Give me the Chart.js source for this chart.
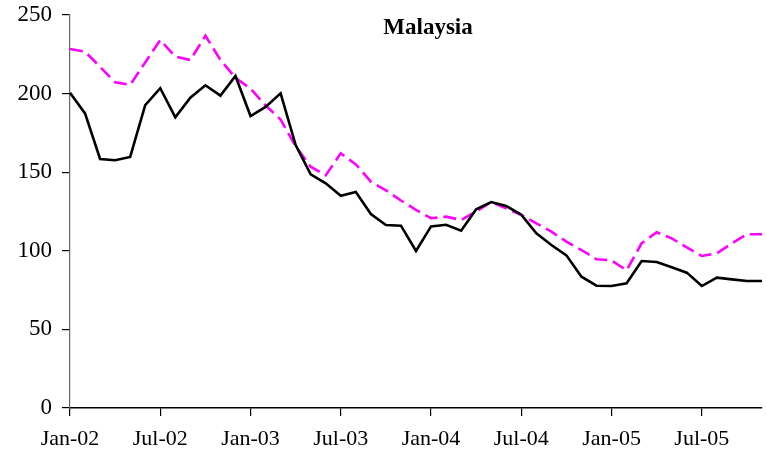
<!DOCTYPE html>
<html>
<head>
<meta charset="utf-8">
<script src="https://cdn.jsdelivr.net/npm/chart.js@4.4.1/dist/chart.umd.min.js"></script>
<style>
  html, body { margin: 0; padding: 0; background: #fff; }
  #chart { display: block; }
</style>
</head>
<body>
<canvas id="chart" width="767" height="459"></canvas>
<script>
const months = [
  'Jan-02', 'Feb-02', 'Mar-02', 'Apr-02', 'May-02', 'Jun-02', 'Jul-02', 'Aug-02', 'Sep-02', 'Oct-02', 'Nov-02', 'Dec-02',
  'Jan-03', 'Feb-03', 'Mar-03', 'Apr-03', 'May-03', 'Jun-03', 'Jul-03', 'Aug-03', 'Sep-03', 'Oct-03', 'Nov-03', 'Dec-03',
  'Jan-04', 'Feb-04', 'Mar-04', 'Apr-04', 'May-04', 'Jun-04', 'Jul-04', 'Aug-04', 'Sep-04', 'Oct-04', 'Nov-04', 'Dec-04',
  'Jan-05', 'Feb-05', 'Mar-05', 'Apr-05', 'May-05', 'Jun-05', 'Jul-05', 'Aug-05', 'Sep-05', 'Oct-05', 'Nov-05'
];

const solidSeries = [
  200.6, 187.4, 158.4, 157.6, 159.7, 192.7, 203.4, 184.9, 197.4, 205.3, 198.7, 211.2,
  185.7, 191.5, 200.2, 167.3, 148.7, 142.9, 135.0, 137.4, 123.4, 116.4, 116.0, 99.9,
  115.5, 116.6, 112.8, 126.4, 131.0, 128.5, 123.0, 111.1, 103.7, 97.1, 83.5, 77.8,
  77.6, 79.3, 93.5, 92.9, 89.5, 86.1, 77.6, 82.9, 81.8, 80.8, 80.8
];

const dashedSeries = [
  228.4, 226.7, 217.0, 207.2, 205.5, 219.8, 234.1, 223.5, 221.4, 236.8, 221.4, 210.0,
  203.2, 192.5, 183.5, 166.5, 153.5, 148.0, 162.0, 155.0, 144.0, 138.5, 132.0, 126.0,
  120.7, 121.7, 119.6, 125.0, 131.0, 127.0, 122.8, 117.5, 112.2, 105.8, 100.5, 94.6,
  93.9, 87.5, 104.8, 111.8, 107.9, 102.2, 96.7, 98.4, 104.8, 110.5, 110.5
];

const yTicks = [0, 50, 100, 150, 200, 250];
const chartTitle = 'Malaysia';

const serif = '"Liberation Serif", "Times New Roman", serif';

const titlePlugin = {
  id: 'innerTitle',
  afterDraw(chart) {
    const { ctx, chartArea } = chart;
    ctx.save();
    ctx.font = 'bold 23px ' + serif;
    ctx.fillStyle = '#000';
    ctx.textAlign = 'center';
    ctx.textBaseline = 'middle';
    ctx.fillText(chartTitle, chartArea.left + 358, chartArea.top + 13);
    ctx.restore();
  }
};

new Chart(document.getElementById('chart'), {
  type: 'line',
  data: {
    labels: months,
    datasets: [
      {
        label: 'Actual',
        data: solidSeries,
        borderColor: '#000000',
        borderWidth: 2.6,
        pointRadius: 0,
        tension: 0,
        fill: false
      },
      {
        label: 'Trend',
        data: dashedSeries,
        borderColor: '#ff00ff',
        borderWidth: 2.6,
        borderDash: [13, 6],
        pointRadius: 0,
        tension: 0,
        fill: false
      }
    ]
  },
  options: {
    responsive: false,
    animation: false,
    layout: { padding: { top: 15, right: 5, left: 0, bottom: 0 } },
    plugins: {
      legend: { display: false },
      tooltip: { enabled: false },
      title: { display: false }
    },
    scales: {
      x: {
        type: 'category',
        offset: false,
        border: { color: '#000', width: 1.5 },
        grid: { drawOnChartArea: false, drawTicks: true, tickLength: 8, color: '#000', lineWidth: 1.2 },
        ticks: {
          autoSkip: false,
          maxRotation: 0,
          minRotation: 0,
          padding: 10,
          color: '#000',
          font: { family: serif, size: 22 },
          callback(value, index) {
            return index % 6 === 0 ? this.getLabelForValue(value) : null;
          }
        },
        afterFit(scale) {
          scale.height = 51;
          scale.paddingLeft = 0;
          scale.paddingRight = 0;
        }
      },
      y: {
        min: 0,
        max: 250,
        border: { color: '#666', width: 1.2 },
        grid: { drawOnChartArea: false, drawTicks: true, tickLength: 8, color: '#000', lineWidth: 1.2 },
        afterBuildTicks(scale) {
          scale.ticks = yTicks.map((v) => ({ value: v }));
        },
        ticks: {
          padding: 10,
          color: '#000',
          font: { family: serif, size: 23 }
        },
        afterFit(scale) {
          scale.width = 70;
          scale.paddingTop = 0;
          scale.paddingBottom = 0;
        }
      }
    }
  },
  plugins: [titlePlugin]
});
</script>
</body>
</html>
